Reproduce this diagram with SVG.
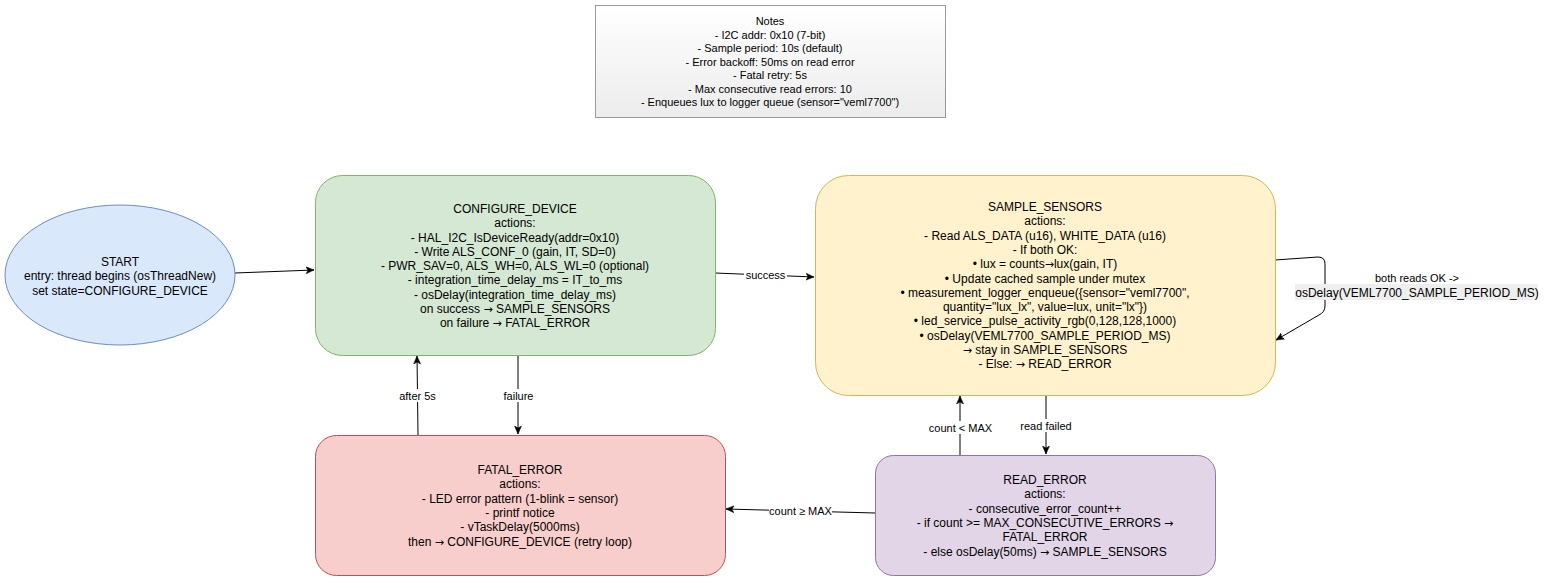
<svg xmlns="http://www.w3.org/2000/svg" width="1544" height="581" viewBox="0 0 1544 581">
  <style>
    text { font-family: "Liberation Sans", Arial, Helvetica, sans-serif; fill: #000; text-anchor: middle; }
    .node { font-size: 12px; }
    .note { font-size: 11px; }
    .lbl { font-size: 11px; }
    .ar { font-family: "DejaVu Sans", sans-serif; font-size: 11px; }
    .edge { fill: none; stroke: #000; stroke-width: 1; }
    .lblbg { fill: #fff; }
  </style>
  <defs>
    <linearGradient id="noteFill" x1="0" y1="0" x2="0" y2="1">
      <stop offset="0" stop-color="#ffffff"/>
      <stop offset="1" stop-color="#ececec"/>
    </linearGradient>
    <marker id="arrow" markerWidth="10" markerHeight="10" refX="8" refY="5" orient="auto" markerUnits="userSpaceOnUse">
      <path d="M0,1.5 L8,5 L0,8.5 L2,5 Z" fill="#000" stroke="#000" stroke-width="0.5"/>
    </marker>
  </defs>

  <!-- Notes -->
  <g id="notes">
    <rect x="595.5" y="5.5" width="350" height="112" fill="url(#noteFill)" stroke="#9a9a9a"/>
    <text class="note" x="770" y="25">Notes</text>
    <text class="note" x="770" y="38.5">- I2C addr: 0x10 (7-bit)</text>
    <text class="note" x="770" y="52">- Sample period: 10s (default)</text>
    <text class="note" x="770" y="65.5">- Error backoff: 50ms on read error</text>
    <text class="note" x="770" y="79">- Fatal retry: 5s</text>
    <text class="note" x="770" y="92.5">- Max consecutive read errors: 10</text>
    <text class="note" x="770" y="106">- Enqueues lux to logger queue (sensor="veml7700")</text>
  </g>

  <!-- Connectors -->
  <g id="connectors">
    <!-- START -> CONFIGURE_DEVICE -->
    <path class="edge" d="M235,273 L314,270" marker-end="url(#arrow)"/>
    <!-- CONFIGURE_DEVICE -> SAMPLE_SENSORS -->
    <path class="edge" d="M715,273 L814,277" marker-end="url(#arrow)"/>
    <rect class="lblbg" x="744" y="268" width="43" height="13"/>
    <text class="lbl" x="765.5" y="279">success</text>
    <!-- CONFIGURE_DEVICE -> FATAL_ERROR -->
    <path class="edge" d="M518,355 L518,434" marker-end="url(#arrow)"/>
    <rect class="lblbg" x="502" y="389" width="33" height="13"/>
    <text class="lbl" x="518.5" y="400">failure</text>
    <!-- FATAL_ERROR -> CONFIGURE_DEVICE -->
    <path class="edge" d="M418,435 L417,356" marker-end="url(#arrow)"/>
    <rect class="lblbg" x="397" y="389" width="41" height="13"/>
    <text class="lbl" x="417.5" y="400">after 5s</text>
    <!-- SAMPLE_SENSORS -> READ_ERROR -->
    <path class="edge" d="M1046,395 L1046,454" marker-end="url(#arrow)"/>
    <rect class="lblbg" x="1019" y="419" width="54" height="13"/>
    <text class="lbl" x="1046" y="430">read failed</text>
    <!-- READ_ERROR -> SAMPLE_SENSORS -->
    <path class="edge" d="M960,455 L960,396" marker-end="url(#arrow)"/>
    <rect class="lblbg" x="928" y="421" width="65" height="13"/>
    <text class="lbl" x="960.5" y="432">count &lt; MAX</text>
    <!-- READ_ERROR -> FATAL_ERROR -->
    <path class="edge" d="M875,513 L726,509" marker-end="url(#arrow)"/>
    <rect class="lblbg" x="769" y="504" width="63" height="13"/>
    <text class="lbl" x="800.5" y="515">count ≥ MAX</text>
    <!-- SAMPLE_SENSORS self loop -->
    <path class="edge" d="M1275,260 L1318,257 Q1325,257 1325,264 L1325,306 Q1325,312 1319,315 L1276,340" marker-end="url(#arrow)"/>
    <rect class="lblbg" x="1370" y="271" width="94" height="13"/>
    <rect x="1295" y="284" width="243" height="16" fill="#eeeeee"/>
    <text class="lbl" x="1417" y="282">both reads OK -&gt;</text>
    <text class="node" x="1417" y="296.5">osDelay(VEML7700_SAMPLE_PERIOD_MS)</text>
  </g>

  <!-- START -->
  <g id="start">
    <ellipse cx="120" cy="275" rx="115" ry="70" fill="#dae8fc" stroke="#6c8ebf"/>
    <text class="node" x="120" y="266">START</text>
    <text class="node" x="120" y="280">entry: thread begins (osThreadNew)</text>
    <text class="node" x="120" y="295">set state=CONFIGURE_DEVICE</text>
  </g>

  <!-- CONFIGURE_DEVICE -->
  <g id="configure_device">
    <rect x="315.5" y="175.5" width="400" height="180" rx="27" ry="27" fill="#d5e8d4" stroke="#82b366"/>
    <text class="node" x="515" y="213">CONFIGURE_DEVICE</text>
    <text class="node" x="515" y="227">actions:</text>
    <text class="node" x="515" y="241.5">- HAL_I2C_IsDeviceReady(addr=0x10)</text>
    <text class="node" x="515" y="255.5">- Write ALS_CONF_0 (gain, IT, SD=0)</text>
    <text class="node" x="515" y="270">- PWR_SAV=0, ALS_WH=0, ALS_WL=0 (optional)</text>
    <text class="node" x="515" y="284">- integration_time_delay_ms = IT_to_ms</text>
    <text class="node" x="515" y="298.5">- osDelay(integration_time_delay_ms)</text>
    <text class="node" x="515" y="312.5">on success <tspan class="ar">→</tspan> SAMPLE_SENSORS</text>
    <text class="node" x="515" y="327">on failure <tspan class="ar">→</tspan> FATAL_ERROR</text>
  </g>

  <!-- SAMPLE_SENSORS -->
  <g id="sample_sensors">
    <rect x="815.5" y="175.5" width="460" height="220" rx="33" ry="33" fill="#fff2cc" stroke="#d6b656"/>
    <text class="node" x="1045" y="211">SAMPLE_SENSORS</text>
    <text class="node" x="1045" y="225.3">actions:</text>
    <text class="node" x="1045" y="239.6">- Read ALS_DATA (u16), WHITE_DATA (u16)</text>
    <text class="node" x="1045" y="253.9">- If both OK:</text>
    <text class="node" x="1045" y="268.2">• lux = counts<tspan class="ar">→</tspan>lux(gain, IT)</text>
    <text class="node" x="1045" y="282.5">• Update cached sample under mutex</text>
    <text class="node" x="1045" y="296.8">• measurement_logger_enqueue({sensor="veml7700",</text>
    <text class="node" x="1045" y="311.1">quantity="lux_lx", value=lux, unit="lx"})</text>
    <text class="node" x="1045" y="325.4">• led_service_pulse_activity_rgb(0,128,128,1000)</text>
    <text class="node" x="1045" y="339.7">• osDelay(VEML7700_SAMPLE_PERIOD_MS)</text>
    <text class="node" x="1045" y="354"><tspan class="ar">→</tspan> stay in SAMPLE_SENSORS</text>
    <text class="node" x="1045" y="368.3">- Else: <tspan class="ar">→</tspan> READ_ERROR</text>
  </g>

  <!-- FATAL_ERROR -->
  <g id="fatal_error">
    <rect x="315.5" y="435.5" width="410" height="140" rx="21" ry="21" fill="#f8cecc" stroke="#b85450"/>
    <text class="node" x="520" y="474">FATAL_ERROR</text>
    <text class="node" x="520" y="488.3">actions:</text>
    <text class="node" x="520" y="502.6">- LED error pattern (1-blink = sensor)</text>
    <text class="node" x="520" y="516.9">- printf notice</text>
    <text class="node" x="520" y="531.2">- vTaskDelay(5000ms)</text>
    <text class="node" x="520" y="545.5">then <tspan class="ar">→</tspan> CONFIGURE_DEVICE (retry loop)</text>
  </g>

  <!-- READ_ERROR -->
  <g id="read_error">
    <rect x="875.5" y="455.5" width="340" height="120" rx="18" ry="18" fill="#e1d5e7" stroke="#9673a6"/>
    <text class="node" x="1045" y="484">READ_ERROR</text>
    <text class="node" x="1045" y="498.3">actions:</text>
    <text class="node" x="1045" y="512.6">- consecutive_error_count++</text>
    <text class="node" x="1045" y="526.9">- if count &gt;= MAX_CONSECUTIVE_ERRORS <tspan class="ar">→</tspan></text>
    <text class="node" x="1045" y="541.2">FATAL_ERROR</text>
    <text class="node" x="1045" y="555.5">- else osDelay(50ms) <tspan class="ar">→</tspan> SAMPLE_SENSORS</text>
  </g>
</svg>
